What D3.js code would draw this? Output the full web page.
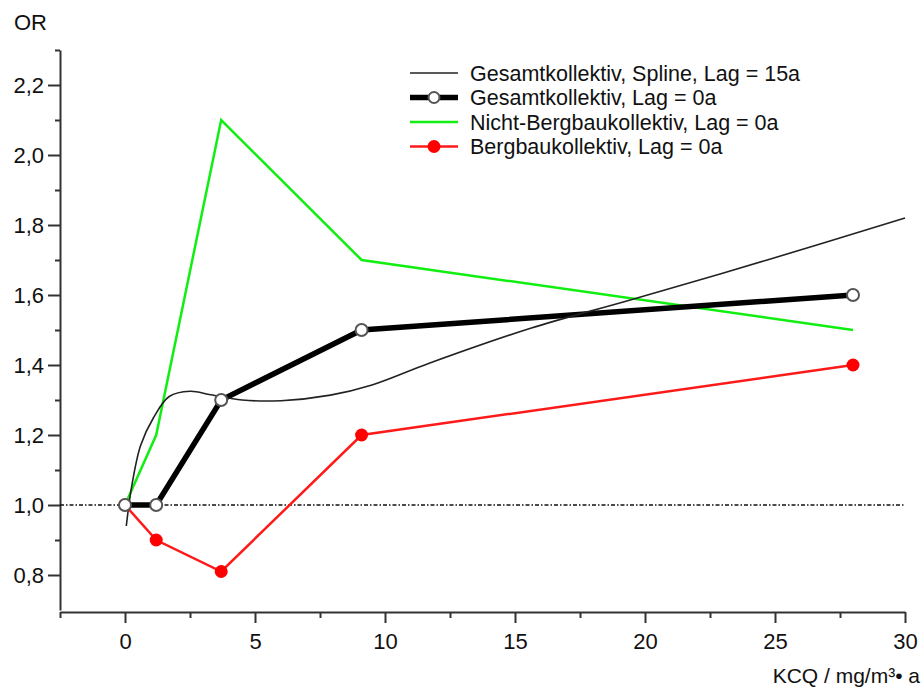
<!DOCTYPE html>
<html>
<head>
<meta charset="utf-8">
<script src="https://cdn.jsdelivr.net/npm/d3@7"></script>
<style>
  body { margin: 0; background: #fff; }
  svg { font-family: Arial, "Liberation Sans", sans-serif; }
</style>
</head>
<body>
<div id="chart"></div>
<script>
// data
var kcq = [0, 1.2, 3.7, 9.1, 28];
var gesamt = [1.0, 1.0, 1.3, 1.5, 1.6];
var nichtBergbau = [1.0, 1.2, 2.1, 1.7, 1.5];
var bergbau = [1.0, 0.9, 0.81, 1.2, 1.4];
var splineX = [0.05, 0.25, 0.6, 1.1, 1.7, 2.5, 3.3, 4.5, 6.0, 7.9, 9.5, 11.7, 15.6, 19.4, 24.7, 30];
var splineY = [0.94, 1.05, 1.17, 1.25, 1.31, 1.325, 1.315, 1.30, 1.298, 1.314, 1.343, 1.405, 1.505, 1.585, 1.70, 1.82];
var xTicks = [0, 5, 10, 15, 20, 25, 30];
var xMinor = [-2.5, 2.5, 7.5, 12.5, 17.5, 22.5, 27.5];
var yTicks = [0.8, 1.0, 1.2, 1.4, 1.6, 1.8, 2.0, 2.2];
var yMinor = [0.9, 1.1, 1.3, 1.5, 1.7, 1.9, 2.1, 2.3];
var legendLabels = [
  'Gesamtkollektiv, Spline, Lag = 15a',
  'Gesamtkollektiv, Lag = 0a',
  'Nicht-Bergbaukollektiv, Lag = 0a',
  'Bergbaukollektiv, Lag = 0a'
];

var width = 922, height = 695;
var margin = { top: 50, right: 17, bottom: 83, left: 60 };

var svg = d3.select('#chart').append('svg')
  .attr('width', width)
  .attr('height', height);

var x = d3.scaleLinear().domain([-2.5, 30]).range([margin.left, width - margin.right]);
var y = d3.scaleLinear().domain([0.7, 2.3]).range([height - margin.bottom - 2, margin.top]);

var de = d3.formatLocale({ decimal: ',', thousands: '.', grouping: [3], currency: ['', ' €'] });
var fmtY = de.format('.1f');

var axisColor = '#333';

// x axis
svg.append('g')
  .attr('transform', 'translate(0,' + (height - margin.bottom) + ')')
  .call(d3.axisBottom(x).tickValues(xTicks).tickSize(11).tickPadding(10).tickSizeOuter(0));
svg.append('g')
  .attr('transform', 'translate(0,' + (height - margin.bottom) + ')')
  .call(d3.axisBottom(x).tickValues(xMinor).tickSize(6).tickFormat('').tickSizeOuter(0))
  .call(g => g.select('.domain').remove());

// y axis
svg.append('g')
  .attr('transform', 'translate(' + margin.left + ',0)')
  .call(d3.axisLeft(y).tickValues(yTicks).tickFormat(fmtY).tickSize(12).tickPadding(4).tickSizeOuter(0));
svg.append('g')
  .attr('transform', 'translate(' + margin.left + ',0)')
  .call(d3.axisLeft(y).tickValues(yMinor).tickSize(5).tickFormat('').tickSizeOuter(0))
  .call(g => g.select('.domain').remove());

svg.selectAll('.domain, .tick line').attr('stroke', axisColor).attr('stroke-width', 2);
svg.selectAll('.tick text').attr('fill', '#111').style('font-size', '22px');

// axis titles
svg.append('text').attr('x', 14).attr('y', 30).text('OR')
  .style('font-size', '22px').attr('fill', '#111');
svg.append('text').attr('x', 920).attr('y', 683).attr('text-anchor', 'end')
  .style('font-size', '21px').attr('fill', '#111')
  .text('KCQ / mg/m³• a');

// reference line at OR = 1
svg.append('line')
  .attr('x1', x(-2.5)).attr('x2', x(30))
  .attr('y1', y(1)).attr('y2', y(1))
  .attr('stroke', '#111').attr('stroke-width', 1.5)
  .attr('stroke-dasharray', '4,2,1.5,2');

var line = d3.line().x(d => x(d[0])).y(d => y(d[1]));
var spline = d3.line().x(d => x(d[0])).y(d => y(d[1])).curve(d3.curveCatmullRom.alpha(0.5));

// green
svg.append('path')
  .datum(kcq.map((k, i) => [k, nichtBergbau[i]]))
  .attr('d', line).attr('fill', 'none')
  .attr('stroke', '#11ee11').attr('stroke-width', 2.5);

// red
var redData = kcq.map((k, i) => [k, bergbau[i]]);
svg.append('path').datum(redData)
  .attr('d', line).attr('fill', 'none')
  .attr('stroke', '#ff1a1a').attr('stroke-width', 2.5);
svg.selectAll('.red-dot').data(redData).enter().append('circle')
  .attr('cx', d => x(d[0])).attr('cy', d => y(d[1])).attr('r', 6.5)
  .attr('fill', '#ff0000');

// thick black
var blackData = kcq.map((k, i) => [k, gesamt[i]]);
svg.append('path').datum(blackData)
  .attr('d', line).attr('fill', 'none')
  .attr('stroke', '#000').attr('stroke-width', 5.5);

// spline
svg.append('path')
  .datum(splineX.map((k, i) => [k, splineY[i]]))
  .attr('d', spline).attr('fill', 'none')
  .attr('stroke', '#222').attr('stroke-width', 1.6);

svg.selectAll('.open-dot').data(blackData).enter().append('circle')
  .attr('cx', d => x(d[0])).attr('cy', d => y(d[1])).attr('r', 6)
  .attr('fill', '#fff').attr('stroke', '#555').attr('stroke-width', 2);

// legend
var lg = svg.append('g').attr('transform', 'translate(410,73)');
var rowH = 24.5;
legendLabels.forEach(function(lbl, i) {
  var row = lg.append('g').attr('transform', 'translate(0,' + (i * rowH) + ')');
  var col = ['#222', '#000', '#11ee11', '#ff1a1a'][i];
  var sw = [1.6, 5.5, 2.5, 2.5][i];
  row.append('line').attr('x1', 0).attr('x2', 48).attr('y1', 0).attr('y2', 0)
    .attr('stroke', col).attr('stroke-width', sw);
  if (i === 1) row.append('circle').attr('cx', 24).attr('cy', 0).attr('r', 5.5)
    .attr('fill', '#fff').attr('stroke', '#555').attr('stroke-width', 2);
  if (i === 3) row.append('circle').attr('cx', 24).attr('cy', 0).attr('r', 6.5)
    .attr('fill', '#ff0000');
  row.append('text').attr('x', 60).attr('y', 7.5).text(lbl)
    .style('font-size', '21.5px').attr('fill', '#111');
});
</script>
</body>
</html>
